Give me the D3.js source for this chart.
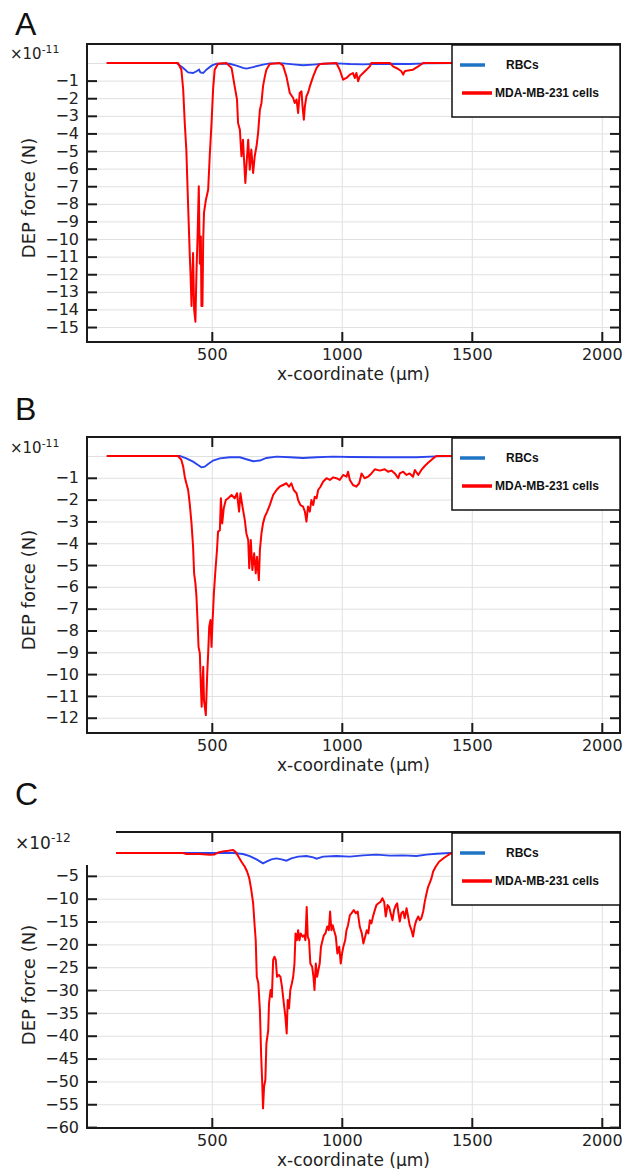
<!DOCTYPE html>
<html>
<head>
<meta charset="utf-8">
<script src="https://cdn.jsdelivr.net/npm/d3@7"></script>
<style>
  body { margin: 0; background: #fff; }
  svg { display: block; }
  .grid line { stroke: #e0e0e0; stroke-width: 1; }
  .grid path { display: none; }
  .ax path { display: none; }
  .ax line { stroke: #1a1a1a; stroke-width: 2; }
  .ax text { font-family: "DejaVu Sans", sans-serif; font-size: 16px; fill: #222; }
</style>
</head>
<body>
<svg id="chart" width="624" height="1169"></svg>
<script>
// x positions in µm, forces in units of the panel exponent
const xTicks = [500, 1000, 1500, 2000];
const aYTicks = [-1, -2, -3, -4, -5, -6, -7, -8, -9, -10, -11, -12, -13, -14, -15];
const bYTicks = [-1, -2, -3, -4, -5, -6, -7, -8, -9, -10, -11, -12];
const cYTicks = [-5, -10, -15, -20, -25, -30, -35, -40, -45, -50, -55, -60];
const seriesNames = ["RBCs", "MDA-MB-231 cells"];

const aRbc = [[96,0],[364,0],[390,-0.28],[409,-0.53],[428,-0.57],[441,-0.47],[451,-0.38],[456,-0.53],[467,-0.57],[479,-0.38],[499,-0.15],[518,-0.04],[569,-0.04],[595,-0.15],[620,-0.28],[633,-0.32],[659,-0.23],[697,-0.09],[723,-0.02],[774,-0.02],[813,-0.08],[851,-0.13],[890,-0.09],[928,-0.04],[979,-0.02],[1031,-0.06],[1082,-0.08],[1159,-0.04],[1261,-0.06],[1326,-0.02],[1450,0]];
const aMda = [[96,0],[370,0],[383,-0.38],[390,-1.52],[396,-3.41],[402,-4.92],[409,-8.14],[415,-10.8],[418,-11.9],[422,-13.8],[428,-10.8],[432,-14.0],[437,-14.7],[441,-11.9],[445,-10.0],[450,-7.0],[454,-11.4],[458,-9.85],[460,-13.8],[464,-13.8],[467,-10.0],[470,-8.5],[477,-7.8],[486,-7.2],[492,-5.3],[499,-3.4],[505,-1.5],[511,-0.38],[524,-0.04],[556,0],[576,-0.28],[588,-1.33],[597,-2.08],[601,-3.41],[608,-3.79],[614,-5.3],[620,-4.36],[624,-5.49],[629,-6.82],[633,-5.87],[640,-4.36],[646,-6.06],[652,-4.92],[659,-6.25],[665,-5.3],[672,-4.73],[678,-3.98],[685,-2.65],[691,-2.27],[697,-1.33],[704,-0.76],[710,-0.38],[723,-0.06],[761,0],[774,-0.15],[787,-0.76],[800,-1.7],[813,-1.99],[819,-2.27],[826,-2.08],[832,-2.84],[838,-1.7],[845,-1.61],[849,-2.46],[854,-3.22],[858,-2.46],[864,-1.89],[870,-1.7],[877,-1.33],[890,-0.76],[903,-0.28],[915,-0.06],[979,0],[992,-0.38],[1005,-0.95],[1018,-0.85],[1031,-0.66],[1043,-0.57],[1050,-0.85],[1056,-0.57],[1063,-1.04],[1069,-0.76],[1082,-0.57],[1095,-0.38],[1108,-0.19],[1114,0],[1185,0],[1197,-0.19],[1217,-0.34],[1229,-0.47],[1236,-0.66],[1242,-0.47],[1255,-0.42],[1274,-0.38],[1294,-0.19],[1313,0],[1450,0]];

const bRbc = [[96,0],[377,0],[402,-0.11],[428,-0.26],[447,-0.41],[460,-0.52],[473,-0.49],[486,-0.37],[505,-0.21],[531,-0.11],[569,-0.06],[608,-0.06],[633,-0.15],[659,-0.24],[685,-0.21],[710,-0.09],[749,-0.03],[800,-0.06],[851,-0.09],[903,-0.06],[967,-0.03],[1031,-0.05],[1159,-0.06],[1287,-0.06],[1364,-0.02],[1450,0]];
const bMda = [[96,0],[370,0],[383,-0.18],[390,-0.49],[396,-0.95],[402,-1.25],[409,-1.56],[415,-2.17],[422,-3.09],[428,-4.16],[432,-5.38],[437,-5.84],[441,-6.45],[445,-7.52],[449,-8.75],[454,-9.05],[458,-10.58],[461,-11.5],[467,-9.66],[470,-11.2],[477,-11.88],[482,-10.1],[486,-9.05],[490,-7.83],[495,-7.52],[499,-8.75],[502,-7.83],[508,-6.3],[514,-5.23],[520,-4.31],[524,-3.47],[531,-3.39],[535,-1.94],[540,-3.09],[546,-2.4],[554,-2.02],[563,-1.94],[576,-1.79],[588,-1.94],[597,-1.71],[605,-2.55],[610,-1.71],[618,-2.32],[627,-2.94],[633,-3.55],[640,-3.85],[644,-5.15],[650,-3.85],[656,-5.23],[663,-4.46],[669,-5.38],[674,-4.62],[681,-5.69],[685,-4.31],[691,-3.55],[697,-3.09],[704,-2.78],[713,-2.55],[723,-2.25],[736,-1.79],[749,-1.56],[761,-1.41],[774,-1.33],[787,-1.25],[797,-1.41],[806,-1.25],[815,-1.56],[826,-1.71],[832,-2.02],[841,-2.25],[851,-2.32],[858,-2.55],[864,-3.01],[870,-2.32],[877,-2.55],[883,-2.02],[890,-2.25],[896,-1.87],[903,-1.94],[909,-1.56],[918,-1.41],[928,-1.18],[941,-1.02],[954,-1.1],[967,-0.98],[979,-1.02],[992,-1.1],[1005,-0.87],[1018,-0.95],[1024,-0.72],[1031,-1.1],[1043,-1.33],[1056,-1.41],[1067,-1.25],[1076,-0.8],[1088,-1.02],[1101,-0.95],[1114,-0.8],[1127,-0.61],[1146,-0.67],[1165,-0.61],[1178,-0.72],[1191,-0.67],[1204,-0.8],[1217,-1.02],[1223,-0.8],[1236,-0.72],[1249,-0.87],[1261,-0.8],[1274,-0.95],[1281,-0.64],[1294,-0.87],[1306,-0.64],[1319,-0.46],[1332,-0.31],[1351,-0.11],[1364,0],[1450,0]];

const cRbc = [[96,0],[582,0],[620,-0.22],[646,-0.66],[672,-1.39],[697,-2.26],[710,-1.9],[729,-1.39],[749,-1.17],[768,-1.39],[787,-1.68],[806,-1.17],[832,-0.8],[864,-0.66],[890,-0.95],[903,-1.24],[928,-0.8],[979,-0.66],[1031,-0.8],[1082,-0.51],[1133,-0.36],[1185,-0.58],[1236,-0.51],[1287,-0.66],[1326,-0.36],[1364,-0.15],[1415,0],[1450,0]];
const cMda = [[96,0],[390,0],[402,-0.2],[454,-0.2],[492,-0.4],[511,-0.3],[524,0.1],[543,0.36],[563,0.5],[582,0.66],[592,0.2],[601,-0.66],[614,-1.9],[627,-3.0],[636,-4.1],[644,-5.5],[652,-8.1],[659,-11.0],[665,-16.1],[669,-19.1],[673,-27.1],[679,-28.5],[685,-34.4],[690,-44.6],[694,-50.4],[697,-55.9],[701,-51.2],[706,-49.7],[710,-41.7],[717,-38.8],[720,-32.9],[726,-30.0],[731,-31.5],[736,-23.4],[741,-22.7],[746,-23.4],[751,-27.1],[758,-26.7],[764,-27.1],[770,-29.3],[777,-32.9],[783,-35.8],[788,-39.5],[792,-32.2],[797,-34.0],[802,-30.0],[808,-28.5],[813,-27.1],[818,-24.2],[822,-17.6],[827,-19.1],[832,-16.9],[837,-19.1],[842,-17.6],[849,-18.3],[855,-18.0],[860,-19.1],[865,-11.8],[869,-18.3],[874,-19.1],[879,-24.2],[886,-24.9],[891,-27.1],[895,-30.0],[900,-24.2],[905,-27.1],[910,-25.6],[915,-24.2],[920,-20.5],[926,-19.1],[931,-18.0],[937,-17.6],[944,-16.1],[950,-16.9],[955,-12.8],[960,-16.9],[965,-15.8],[970,-16.9],[977,-18.3],[983,-22.0],[990,-20.5],[996,-24.2],[1001,-22.0],[1006,-20.5],[1013,-19.1],[1018,-16.9],[1024,-15.8],[1031,-13.6],[1037,-13.2],[1046,-12.5],[1054,-13.2],[1061,-12.8],[1069,-16.1],[1077,-17.6],[1083,-19.8],[1090,-18.3],[1096,-16.9],[1102,-17.6],[1108,-14.7],[1114,-15.4],[1120,-13.9],[1127,-12.5],[1133,-11.4],[1141,-11.0],[1149,-10.7],[1156,-9.9],[1163,-10.7],[1169,-13.9],[1176,-11.4],[1182,-11.8],[1188,-13.2],[1195,-14.7],[1201,-12.5],[1208,-11.4],[1213,-11.0],[1218,-13.2],[1223,-15.0],[1229,-13.2],[1236,-12.8],[1242,-14.3],[1249,-12.1],[1255,-13.9],[1261,-15.8],[1268,-16.9],[1274,-18.3],[1281,-15.8],[1287,-14.7],[1294,-13.9],[1300,-14.7],[1306,-14.3],[1313,-12.8],[1319,-10.7],[1326,-8.8],[1332,-7.4],[1338,-6.6],[1345,-5.5],[1351,-4.1],[1361,-3.0],[1374,-1.9],[1390,-1.2],[1409,-0.44],[1422,0],[1450,0]];

const svg = d3.select("#chart");
const left = 87, right = 620;
const x = d3.scaleLinear().domain([20, 2070]).range([left, right]);

const panels = [
  { name: "A", top: 44, bottom: 342, yDomain: [1.08, -15.85], ticks: aYTicks, exp: "-11", expY: 59, expSize: 15, rbc: aRbc, mda: aMda },
  { name: "B", top: 437, bottom: 733, yDomain: [0.87, -12.7], ticks: bYTicks, exp: "-11", expY: 453, expSize: 15, rbc: bRbc, mda: bMda },
  { name: "C", top: 832, bottom: 1128, yDomain: [4.6, -60.2], ticks: cYTicks, exp: "-12", expY: 849, expSize: 17, rbc: cRbc, mda: cMda, mask: true }
];

panels.forEach((p, i) => drawPanel(p, i));

function drawPanel(p, i) {
  const y = d3.scaleLinear().domain(p.yDomain).range([p.top, p.bottom]);
  const h = p.bottom - p.top;
  const g = svg.append("g");

  // grid
  g.append("g").attr("class", "grid")
    .attr("transform", `translate(0,${p.bottom})`)
    .call(d3.axisBottom(x).tickValues(xTicks).tickSize(-h).tickFormat(""));
  g.append("g").attr("class", "grid")
    .attr("transform", `translate(${left},0)`)
    .call(d3.axisLeft(y).tickValues([0].concat(p.ticks)).tickSize(-(right - left)).tickFormat(""));

  // data
  g.append("clipPath").attr("id", "clip" + i)
    .append("rect").attr("x", left).attr("y", p.top).attr("width", right - left).attr("height", h);
  const line = d3.line().x(d => x(d[0])).y(d => y(d[1]));
  g.append("path").datum(p.rbc)
    .attr("clip-path", `url(#clip${i})`)
    .attr("fill", "none").attr("stroke", "#2a44ee").attr("stroke-width", 1.9)
    .attr("d", line);
  g.append("path").datum(p.mda)
    .attr("clip-path", `url(#clip${i})`)
    .attr("fill", "none").attr("stroke", "#ff0000").attr("stroke-width", 2)
    .attr("stroke-linejoin", "round")
    .attr("d", line);

  // axes, ticks pointing inwards
  g.append("g").attr("class", "ax")
    .attr("transform", `translate(0,${p.bottom})`)
    .call(d3.axisBottom(x).tickValues(xTicks).tickSize(-10).tickPadding(7).tickFormat(d3.format("d")));
  g.append("g").attr("class", "ax")
    .attr("transform", `translate(0,${p.top})`)
    .call(d3.axisTop(x).tickValues(xTicks).tickSize(-10).tickFormat(""));
  g.append("g").attr("class", "ax")
    .attr("transform", `translate(${left},0)`)
    .call(d3.axisLeft(y).tickValues(p.ticks).tickSize(-10).tickPadding(8));
  g.append("g").attr("class", "ax")
    .attr("transform", `translate(${right},0)`)
    .call(d3.axisRight(y).tickValues(p.ticks).tickSize(-10).tickFormat(""));

  g.append("rect")
    .attr("x", left).attr("y", p.top)
    .attr("width", right - left).attr("height", h)
    .attr("fill", "none").attr("stroke", "#1a1a1a").attr("stroke-width", 2);

  // panel C has the corner of the frame hidden behind the exponent label
  if (p.mask) {
    g.append("rect").attr("x", left - 3).attr("y", p.top - 4)
      .attr("width", 116 - left + 3).attr("height", 865 - p.top + 4)
      .attr("fill", "#fff");
  }

  // exponent
  const ex = g.append("text")
    .attr("x", p.mask ? 15 : 10).attr("y", p.expY)
    .attr("font-family", "DejaVu Sans, sans-serif")
    .attr("font-size", p.expSize).attr("fill", "#222");
  ex.append("tspan").text("×10");
  ex.append("tspan").attr("dy", -p.expSize * 0.42)
    .attr("font-size", p.expSize * 0.72).text(p.exp);

  // legend
  const lg = g.append("g").attr("transform", `translate(452,${p.top + 1})`);
  lg.append("rect").attr("width", 168).attr("height", 72)
    .attr("fill", "#fff").attr("stroke", "#111").attr("stroke-width", 1.5);
  lg.append("line").attr("x1", 8).attr("x2", 33).attr("y1", 20).attr("y2", 20)
    .attr("stroke", "#1f74c4").attr("stroke-width", 3.5);
  lg.append("line").attr("x1", 10).attr("x2", 40).attr("y1", 48).attr("y2", 48)
    .attr("stroke", "#ff0000").attr("stroke-width", 3.5);
  lg.selectAll("text.leg").data(seriesNames).join("text").attr("class", "leg")
    .attr("x", (d, k) => k === 0 ? 54 : 43)
    .attr("y", (d, k) => k === 0 ? 24 : 52)
    .attr("font-family", "Liberation Sans, Arial, sans-serif")
    .attr("font-weight", "bold").attr("font-size", 12).attr("fill", "#111")
    .text(d => d);

  // titles
  g.append("text")
    .attr("transform", `translate(35,${(p.top + p.bottom) / 2 + 5}) rotate(-90)`)
    .attr("text-anchor", "middle")
    .attr("font-family", "DejaVu Sans, sans-serif").attr("font-size", 18).attr("fill", "#222")
    .text("DEP force (N)");
  g.append("text")
    .attr("x", (left + right) / 2).attr("y", p.bottom + 38)
    .attr("text-anchor", "middle")
    .attr("font-family", "DejaVu Sans, sans-serif").attr("font-size", 17).attr("fill", "#222")
    .text("x-coordinate (µm)");

  // panel letter
  g.append("text")
    .attr("x", 15).attr("y", p.top - (i === 0 ? 9 : i === 1 ? 17 : 27))
    .attr("font-family", "Liberation Sans, Arial, sans-serif").attr("font-size", 32).attr("fill", "#111")
    .text(p.name);
}
</script>
</body>
</html>
